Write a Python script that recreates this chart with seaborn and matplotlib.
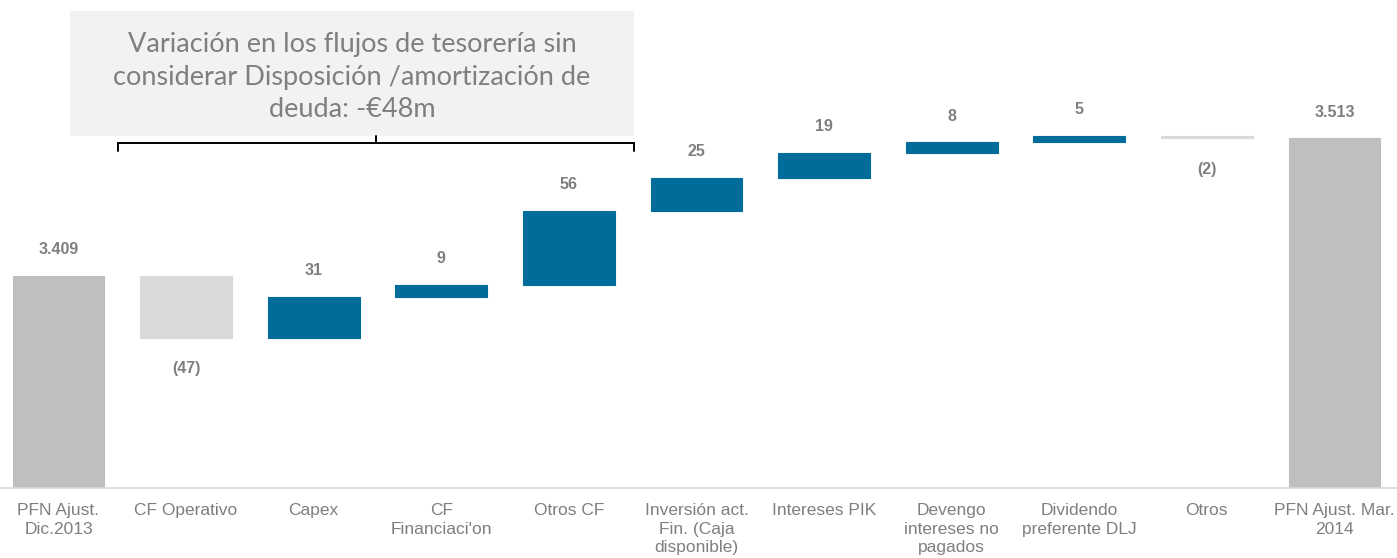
import matplotlib
matplotlib.use("Agg")
import matplotlib.pyplot as plt
from matplotlib.patches import Rectangle
from matplotlib.lines import Line2D
import seaborn as sns
import pandas as pd

labels = ["PFN Ajust.\nDic.2013", "CF Operativo", "Capex", "CF\nFinanciaci'on", "Otros CF",
          "Inversión act.\nFin. (Caja\ndisponible)", "Intereses PIK", "Devengo\nintereses no\npagados",
          "Dividendo\npreferente DLJ", "Otros", "PFN Ajust. Mar.\n2014"]
steps = [3409, -47, 31, 9, 56, 25, 19, 8, 5, -2, 3513]
kinds = ["total", "neg", "pos", "pos", "pos", "pos", "pos", "pos", "pos", "neg", "total"]
value_text = ["3.409", "(47)", "31", "9", "56", "25", "19", "8", "5", "(2)", "3.513"]
box_text = "Variación en los flujos de tesorería sin\nconsiderar Disposición /amortización de\ndeuda: -€48m"

kind_colors = {"total": "#bfbfbf", "neg": "#d9d9d9", "pos": "#006c9a"}
y_min, y_max = 3248, 3618

# build floating bar table
low, high = [], []
level = 0
for s, k in zip(steps, kinds):
    if k == "total":
        level = s
        low.append(y_min)
        high.append(s)
    else:
        start = level
        level = level + s
        low.append(min(start, level))
        high.append(max(start, level))
df = pd.DataFrame({"label": labels, "low": low, "high": high, "kind": kinds, "text": value_text})
df["size"] = df["high"] - df["low"]

sns.set_style("white")
fig = plt.figure(figsize=(13.97, 5.58), dpi=100)
ax = fig.add_axes([0, 70 / 558, 1, 488 / 558])

sns.barplot(data=df, x="label", y="size", hue="label", palette=[kind_colors[k] for k in kinds],
            legend=False, width=0.72, saturation=1, ax=ax)
for patch, lo in zip(ax.patches, df["low"]):
    patch.set_y(lo)
    patch.set_edgecolor(patch.get_facecolor())
    patch.set_linewidth(0.8)

ax.set_ylim(y_min, y_max)
ax.set_xlim(-0.458, 10.49)
ax.set_xlabel("")
ax.set_ylabel("")
ax.set_yticks([])
for sp in ["left", "right", "top"]:
    ax.spines[sp].set_visible(False)
ax.spines["bottom"].set_color("#d9d9d9")
ax.spines["bottom"].set_linewidth(1.2)
ax.tick_params(axis="x", length=0, pad=11)
ax.set_xticks(range(len(labels)))
ax.set_xticklabels(labels, fontsize=12.5, color="#7f7f7f", family="Liberation Sans", linespacing=1.3, va="top")

for i, row in df.iterrows():
    if row["kind"] == "neg":
        ax.annotate(row["text"], (i, row["low"]), xytext=(0, -22), textcoords="offset points",
                    ha="center", va="center", fontsize=11.5, fontweight="bold", color="#7f7f7f",
                    family="Liberation Sans")
    else:
        ax.annotate(row["text"], (i, row["high"]), xytext=(0, 19), textcoords="offset points",
                    ha="center", va="center", fontsize=11.5, fontweight="bold", color="#7f7f7f",
                    family="Liberation Sans")

# annotation box and brace (figure pixel coords)
def fx(px):
    return px / 1397

def fy(py):
    return 1 - py / 558

fig.patches.append(Rectangle((fx(70), fy(136)), fx(634) - fx(70), fy(11) - fy(136),
                             transform=fig.transFigure, facecolor="#f2f2f2", edgecolor="none", zorder=3))
fig.text(fx(352), fy(77), box_text, ha="center", va="center", fontsize=19.5, color="#7f7f7f",
         family="Lato", linespacing=1.37, zorder=4)
for xs, ys in [([118, 634], [143, 143]), ([118, 118], [143, 151]), ([634, 634], [143, 151]),
               ([376, 376], [136, 143])]:
    fig.lines.append(Line2D([fx(x) for x in xs], [fy(y) for y in ys], transform=fig.transFigure,
                            color="black", linewidth=1.4, zorder=4))

fig.savefig("out.png", dpi=100)
